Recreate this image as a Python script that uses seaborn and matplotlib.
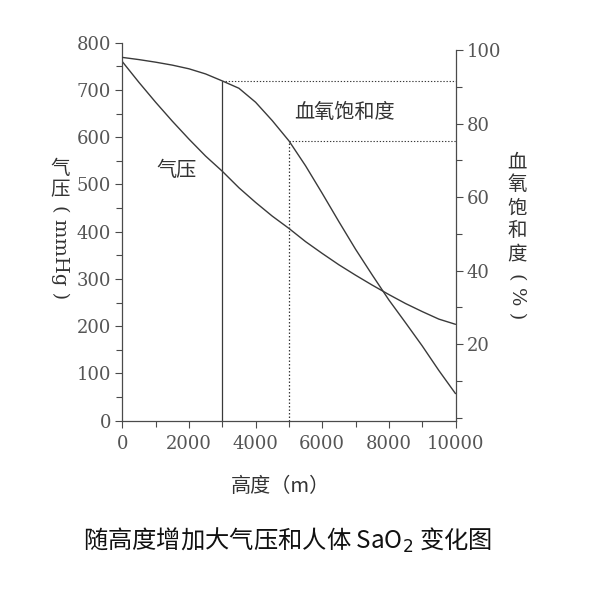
import matplotlib
matplotlib.use("Agg")
import matplotlib.pyplot as plt
import seaborn as sns
import pandas as pd
from matplotlib.ticker import MultipleLocator

# ---- data ----
altitude = [0, 500, 1000, 1500, 2000, 2500, 3000, 3500, 4000, 4500, 5000,
            5500, 6000, 6500, 7000, 7500, 8000, 8500, 9000, 9500, 10000]
pressure = [760, 716, 674, 634, 596, 560, 528, 493, 462, 433, 407,
            379, 354, 330, 308, 287, 267, 248, 231, 215, 204]
saturation = [98.0, 97.4, 96.7, 95.9, 94.9, 93.5, 91.6, 89.6, 85.8, 80.8, 75.3,
              68.5, 61.0, 53.3, 45.8, 38.8, 32.0, 25.8, 19.5, 12.8, 6.5]
marked_altitudes = [3000, 5000]
x_ticks = [0, 2000, 4000, 6000, 8000, 10000]
left_ticks = [0, 100, 200, 300, 400, 500, 600, 700, 800]
right_ticks = [20, 40, 60, 80, 100]

df = pd.DataFrame({"altitude": altitude, "pressure": pressure, "saturation": saturation})

sns.set_theme(style="ticks")
plt.rcParams["font.family"] = ["Noto Sans CJK SC", "DejaVu Sans"]

W, H = 600, 591
fig = plt.figure(figsize=(W / 100, H / 100), dpi=100)
fig.patch.set_facecolor("white")

def px(x, y):
    return x / W, 1 - y / H

left, right, top, bottom = 122.3, 455.5, 42.7, 420.7
ax = fig.add_axes([left / W, 1 - bottom / H, (right - left) / W, (bottom - top) / H])
ax2 = ax.twinx()

line_c = "#3a3a3a"
spine_c = "#4a4a4a"
tick_c = "#555555"

sns.lineplot(data=df, x="altitude", y="pressure", ax=ax, color=line_c, linewidth=1.0)
sns.lineplot(data=df, x="altitude", y="saturation", ax=ax2, color=line_c, linewidth=1.0)

ax.set_xlim(0, 10000)
ax.set_ylim(0, 800)
r_lo, r_hi = -0.87, 102.0
ax2.set_ylim(r_lo, r_hi)

# marker lines at 3000 m (solid) and 5000 m (dotted)
styles = ["-", (0, (1.2, 1.6))]
for alt_m, ls in zip(marked_altitudes, styles):
    s = saturation[altitude.index(alt_m)]
    ax2.vlines(alt_m, r_lo, s, colors=line_c, linewidth=0.9, linestyles=[ls])
    ax2.hlines(s, alt_m, 10000, colors=line_c, linewidth=0.8, linestyles=[(0, (1.2, 1.6))])

# ticks
ax.set_xticks(x_ticks)
ax.set_yticks(left_ticks)
ax2.set_yticks(right_ticks)
ax.xaxis.set_minor_locator(MultipleLocator(1000))
ax.yaxis.set_minor_locator(MultipleLocator(50))
ax2.yaxis.set_minor_locator(MultipleLocator(10))

tick_font = {"family": "DejaVu Serif", "size": 13}
for a in (ax, ax2):
    a.tick_params(which="major", direction="out", length=5, width=0.8, color=spine_c,
                  labelcolor=tick_c, pad=3)
    a.tick_params(which="minor", direction="out", length=4, width=0.8, color=spine_c)
    a.set_xlabel("")
    a.set_ylabel("")
ax.tick_params(axis="x", which="major", pad=5)
for lab in ax.get_xticklabels() + ax.get_yticklabels() + ax2.get_yticklabels():
    lab.set_fontfamily("DejaVu Serif")
    lab.set_fontsize(13)

# spines
for sp in ("top", "right"):
    ax.spines[sp].set_visible(False)
for sp in ("top", "left", "bottom"):
    ax2.spines[sp].set_visible(False)
for sp in ("left", "bottom"):
    ax.spines[sp].set_color(spine_c)
    ax.spines[sp].set_linewidth(0.9)
ax2.spines["right"].set_color(spine_c)
ax2.spines["right"].set_linewidth(0.9)
ax2.spines["right"].set_bounds(r_lo, 100)
ax.patch.set_alpha(0)
ax2.patch.set_alpha(0)

txt_c = "#333333"
cjk = ["Noto Sans CJK SC", "DejaVu Sans"]

# curve labels
fig.text(*px(177, 170), "气压", ha="center", va="center", fontsize=14.5, color=txt_c, family=cjk)
fig.text(*px(344, 112), "血氧饱和度", ha="center", va="center", fontsize=14.5, color=txt_c, family=cjk)

# left axis label (vertical writing)
for i, ch in enumerate("气压"):
    fig.text(*px(60, 168 + i * 22), ch, ha="center", va="center", fontsize=14, color=txt_c, family=cjk)
fig.text(*px(60, 252), "( mmHg )", ha="center", va="center", rotation=270,
         fontsize=14, color=txt_c, family=["DejaVu Serif"])

# right axis label (vertical writing)
for i, ch in enumerate("血氧饱和度"):
    fig.text(*px(517, 162 + i * 23), ch, ha="center", va="center", fontsize=14, color=txt_c, family=cjk)
fig.text(*px(517, 296), "( % )", ha="center", va="center", rotation=270,
         fontsize=14, color=txt_c, family=["DejaVu Serif"])

# x axis label
fig.text(*px(280, 487), "高度（m）", ha="center", va="center", fontsize=14.5, color=txt_c, family=cjk)

# caption
fig.text(*px(288, 540), "随高度增加大气压和人体 SaO$_2$ 变化图", ha="center", va="center",
         fontsize=17.5, color="#111111", family=cjk)

fig.savefig("out.png", dpi=100, facecolor="white")
